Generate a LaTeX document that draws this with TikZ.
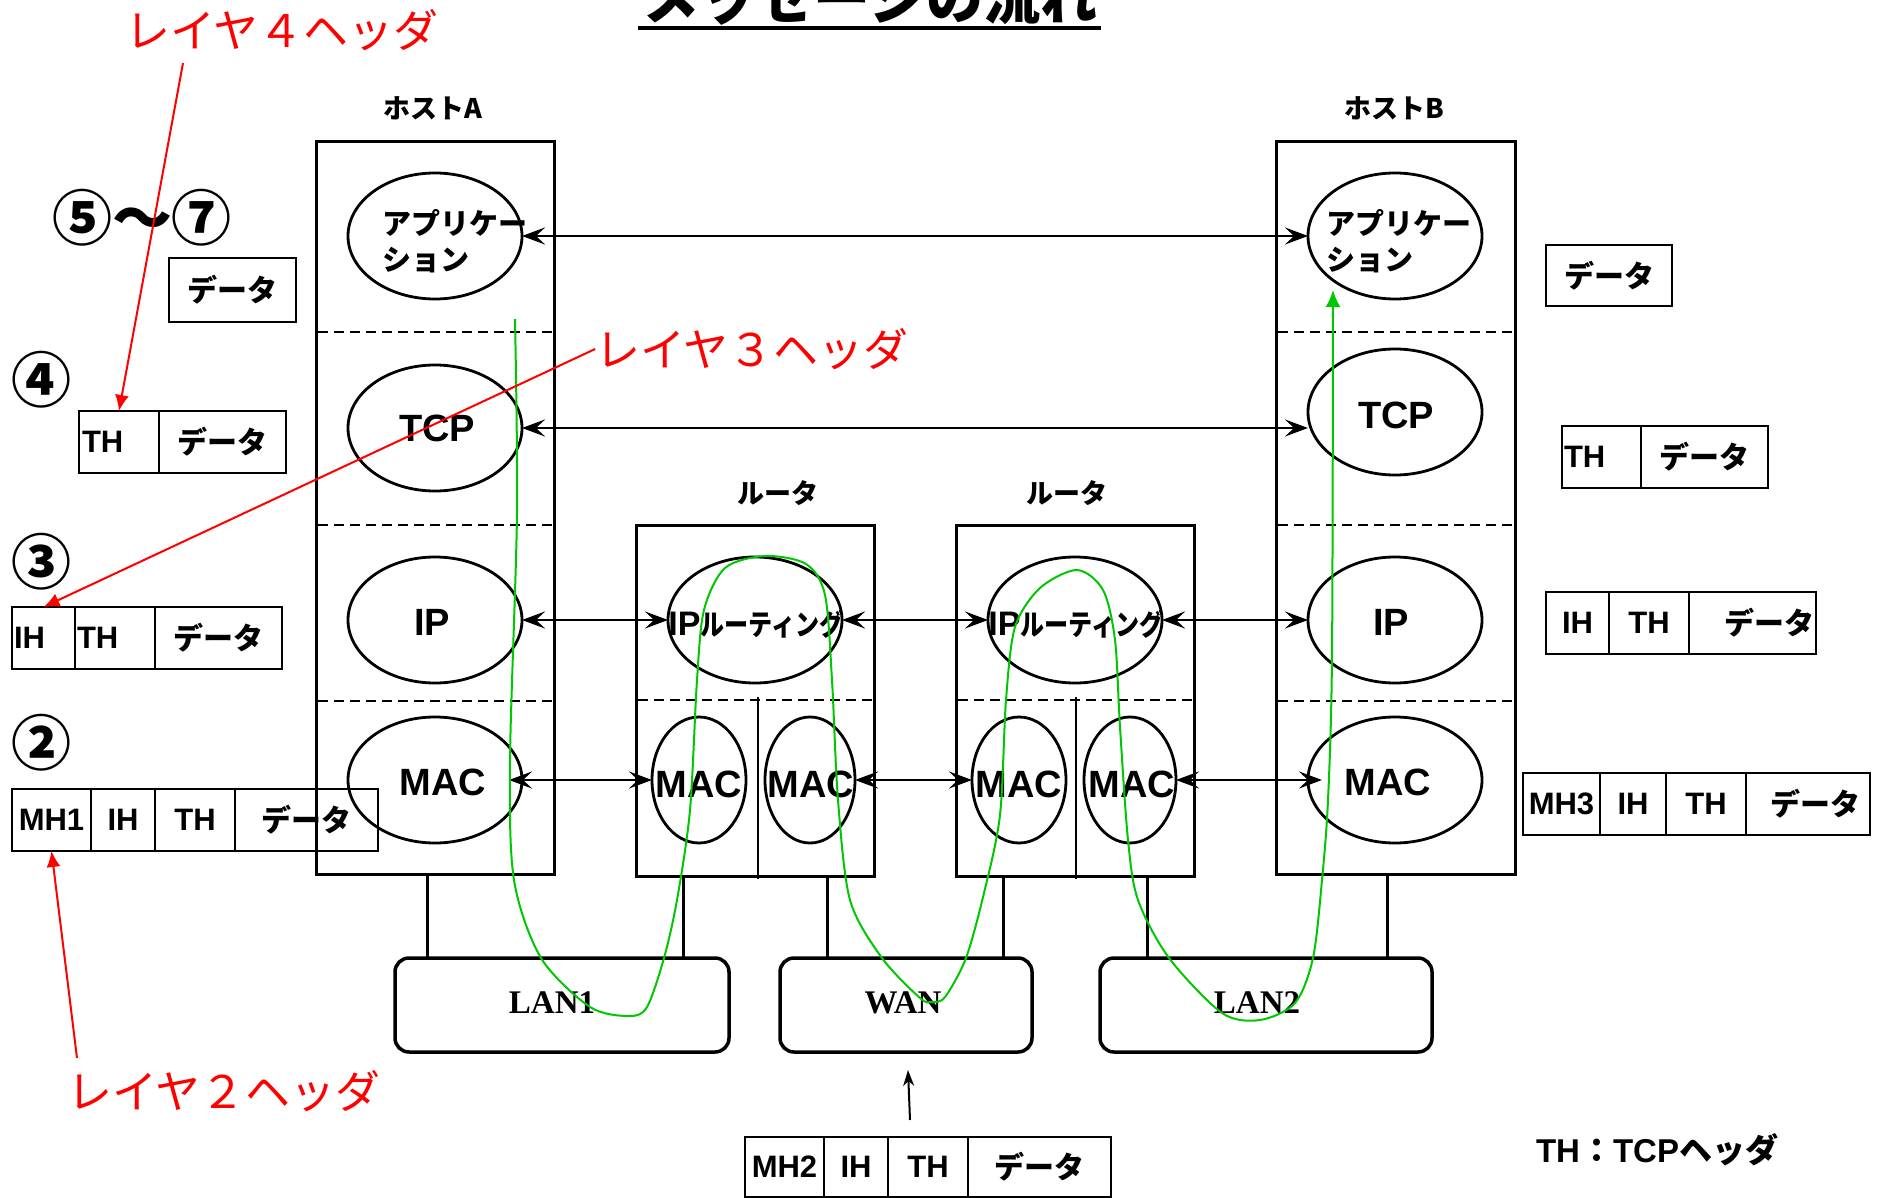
\documentclass[tikz,border=0pt]{standalone}
\usepackage{fontspec}
\usepackage{graphicx}
\setmainfont{Liberation Sans}
\newfontfamily\jp{Noto Sans CJK JP}
\newfontfamily\lanfont{Liberation Serif}
\usetikzlibrary{arrows.meta,shapes.geometric}
\newcommand\fsz[1]{\fontsize{#1pt}{#1pt}\selectfont}
\definecolor{flowgreen}{RGB}{0,200,0}
\begin{document}
\begin{tikzpicture}[x=1pt,y=-1pt,
  every node/.style={inner sep=0pt, outer sep=0pt},
  frame/.style={draw, line width=3pt, rectangle},
  lay/.style={draw, ellipse, line width=2.8pt, minimum width=174, minimum height=126},
  dsh/.style={line width=2.5pt, dash pattern=on 10pt off 6pt},
  dar/.style={line width=2.8pt, {Stealth[length=23pt,width=17pt,inset=9pt]}-{Stealth[length=23pt,width=17pt,inset=9pt]}},
  lt/.style={font=\bfseries\fsz{38}},
  hl/.style={font=\jp\bfseries\fsz{27}},
  jt/.style={font=\jp\bfseries\fontsize{29pt}{36pt}\selectfont},
  cell/.style={draw, line width=2.8pt, minimum height=62, font=\bfseries\fsz{31}},
  dt/.style={font=\jp\bfseries\fsz{30}},
  net/.style={draw, line width=3.5pt, rounded corners=14pt, minimum height=94},
  nett/.style={font=\lanfont\bfseries\fsz{33}},
  stub/.style={line width=3pt},
  redl/.style={red, line width=2pt, -{Latex[length=16pt,width=14pt]}},
  redt/.style={red, font=\jp\fsz{45}},
  num/.style={font=\jp\bfseries\fsz{60}},
  grn/.style={flowgreen, line width=2pt, -{Latex[length=17pt,width=15pt]}}
]
\fill[white] (0,0) rectangle (1885,1198);
\useasboundingbox (0,0) rectangle (1885,1198);

% title
\node[anchor=base, font=\jp\bfseries\fsz{57}] (title) at (870,20) {メッセージの流れ};
\draw[line width=4pt] (638,28) -- (1101,28);

% frames
\node[frame, minimum width=238, minimum height=732] (hostA) at (435,508) {};
\node[frame, minimum width=239, minimum height=732] (hostB) at (1395.5,508) {};
\node[frame, minimum width=238, minimum height=351] (r1) at (755,700.5) {};
\node[frame, minimum width=238, minimum height=351] (r2) at (1075,700.5) {};

\node[hl] (hAl) at (433,108) {ホストA};
\node[hl] (hBl) at (1394,108) {ホストB};
\node[hl] (r1l) at (778,493) {ルータ};
\node[hl] (r2l) at (1067,493) {ルータ};

% separators
\foreach \yy in {332,525,701} {
  \draw[dsh] (318,\yy) -- (552,\yy);
  \draw[dsh] (1278,\yy) -- (1513,\yy);
}
\draw[dsh] (638,700) -- (872,700);
\draw[dsh] (958,700) -- (1192,700);
\draw[line width=2pt] (758,697) -- (758,879);
\draw[line width=2pt] (1076,697) -- (1076,879);

% layer ellipses
\node[lay] (appA) at (435,236) {};
\node[lay] (tcpA) at (435,428) {};
\node[lay] (ipA) at (435,620) {};
\node[lay] (macA) at (435,780) {};
\node[lay] (appB) at (1395,236) {};
\node[lay] (tcpB) at (1395,412) {};
\node[lay] (ipB) at (1395,620) {};
\node[lay] (macB) at (1395,780) {};
\node[lay] (r1ip) at (755,620) {};
\node[lay] (r2ip) at (1075,620) {};
\node[lay, minimum width=94] (r1m1) at (699,780) {};
\node[lay, minimum width=90] (r1m2) at (810,780) {};
\node[lay, minimum width=94] (r2m1) at (1019,780) {};
\node[lay, minimum width=92] (r2m2) at (1130,780) {};

% texts in ellipses
\node[jt, align=left, anchor=west] (appAt) at (382,241) {アプリケー\\ション};
\node[jt, align=left, anchor=west] (appBt) at (1326,241) {アプリケー\\ション};
\node[lt] (tcpAt) at (437,428) {TCP};
\node[lt] (ipAt) at (432,622) {IP};
\node[lt] (macAt) at (443,782) {MAC};
\node[lt] (tcpBt) at (1396,415) {TCP};
\node[lt] (ipBt) at (1391,622) {IP};
\node[lt] (macBt) at (1388,782) {MAC};
\node[lt] (r1m1t) at (699,784) {MAC};
\node[lt] (r1m2t) at (811,784) {MAC};
\node[lt] (r2m1t) at (1019,784) {MAC};
\node[lt] (r2m2t) at (1132,784) {MAC};
\node[font=\bfseries] (r1ipt) at (756,624) {{\fsz{34}IP}\scalebox{0.83}[1]{\jp\fsz{29}ルーティング}};
\node[font=\bfseries] (r2ipt) at (1076,624) {{\fsz{34}IP}\scalebox{0.83}[1]{\jp\fsz{29}ルーティング}};

% peer arrows
\draw[dar] (appA.east) -- (appB.west);
\draw[dar] (tcpA.east) -- (tcpA.east -| tcpB.west);
\draw[dar] (ipA.east) -- (r1ip.west);
\draw[dar] (r1ip.east) -- (r2ip.west);
\draw[dar] (r2ip.east) -- (ipB.west);
\draw[dar, shorten <=-13pt] (macA.east) -- (r1m1.west);
\draw[dar] (r1m2.east) -- (r2m1.west);
\draw[dar, shorten >=-14pt] (r2m2.east) -- (macB.west);

% networks
\node[net, minimum width=334] (lan1) at (562,1005) {};
\node[net, minimum width=252] (wan) at (906,1005) {};
\node[net, minimum width=332] (lan2) at (1266,1005) {};
\node[nett] (lan1t) at (552,1003) {LAN1};
\node[nett] (want) at (903,1003) {WAN};
\node[nett] (lan2t) at (1257,1003) {LAN2};

\draw[stub] ([xshift=-8pt]hostA.south) -- ([xshift=-8pt]hostA.south |- lan1.north);
\draw[stub] ([xshift=-72pt]r1.south) -- ([xshift=-72pt]r1.south |- lan1.north);
\draw[stub] ([xshift=72pt]r1.south) -- ([xshift=72pt]r1.south |- wan.north);
\draw[stub] ([xshift=-72pt]r2.south) -- ([xshift=-72pt]r2.south |- wan.north);
\draw[stub] ([xshift=72pt]r2.south) -- ([xshift=72pt]r2.south |- lan2.north);
\draw[stub] ([xshift=-8.5pt]hostB.south) -- ([xshift=-8.5pt]hostB.south |- lan2.north);

% left packets
\node[num] (n57) at (142,218) {⑤〜⑦};
\node[num] (n4) at (41,380) {④};
\node[num] (n3) at (41,562) {③};
\node[num] (n2) at (41,743) {②};

\node[cell, dt, minimum width=127, minimum height=64] (d57) at (232.5,290) {データ};

\node[cell, minimum width=80, text width=74, align=left, inner xsep=3pt] (r4th) at (119,442) {TH};
\node[cell, dt, minimum width=127] (r4d) at (222.5,442) {データ};

\node[cell, minimum width=63, text width=59, align=left, inner xsep=2pt] (r3ih) at (43.5,638) {IH};
\node[cell, minimum width=80, text width=76, align=left, inner xsep=2pt] (r3th) at (115,638) {TH};
\node[cell, dt, minimum width=127] (r3d) at (218.5,638) {データ};

\node[cell, minimum width=79] (r2mh) at (51.5,820) {MH1};
\node[cell, minimum width=64] (r2ih) at (123,820) {IH};
\node[cell, minimum width=80] (r2th) at (195,820) {TH};
\node[cell, dt, minimum width=143] (r2d) at (306.5,820) {データ};

% right packets
\node[cell, dt, minimum width=126, minimum height=61] (rd57) at (1609,275.5) {データ};

\node[cell, minimum width=79, text width=75, align=left, inner xsep=2pt] (rth) at (1601.5,457) {TH};
\node[cell, dt, minimum width=127] (rthd) at (1704.5,457) {データ};

\node[cell, minimum width=63] (rih) at (1577.5,623) {IH};
\node[cell, minimum width=80] (rihth) at (1649,623) {TH};
\node[cell, dt, minimum width=127, text width=123, align=right, inner xsep=2pt] (rihd) at (1752.5,623) {データ};

\node[cell, minimum width=77] (rmh) at (1561.5,804) {MH3};
\node[cell, minimum width=66] (rmhih) at (1633,804) {IH};
\node[cell, minimum width=80] (rmhth) at (1706,804) {TH};
\node[cell, dt, minimum width=124, text width=104, align=right, inner xsep=10pt] (rmhd) at (1808,804) {データ};

% bottom packet
\node[cell, minimum width=79, minimum height=60] (bmh) at (784.5,1167) {MH2};
\node[cell, minimum width=64, minimum height=60] (bih) at (856,1167) {IH};
\node[cell, minimum width=80, minimum height=60] (bth) at (928,1167) {TH};
\node[cell, dt, minimum width=143, minimum height=60] (bd) at (1039.5,1167) {データ};

\coordinate (wanarr) at (910,1120);
\draw[line width=2pt, -{Stealth[length=16pt,width=11pt,inset=5pt]}] (wanarr) -- ([xshift=2pt, yshift=-18pt]wan.south);

\node[font=\bfseries\fsz{33}] (legend) at (1657,1150) {TH{\jp ：}TCP{\jp ヘッダ}};

% green flow
\draw[grn] plot[smooth, tension=0.5] coordinates {
 (515,319) (517,513) (510,760) (514,880) (541,958) (590,1007) (629,1016) (647,1007)
 (664,958) (677,900) (690,810) (697,680) (704,610) (725,568) (765,556) (806,564)
 (825,595) (832,680) (838,800) (850,900) (882,958) (920,998) (932,1002) (945,997)
 (966,958) (984,893) (1000,815) (1006,700) (1015,627) (1040,588) (1077,570) (1103,590)
 (1115,640) (1120,727) (1128,840) (1138,900) (1169,958) (1222,1013) (1260,1020) (1295,1003)
 (1313,958) (1322,880) (1328,800) (1332,656) (1333,290)};

% red annotations
\node[redt] (l4) at (282,30) {レイヤ４ヘッダ};
\node[redt] (l3) at (752,349) {レイヤ３ヘッダ};
\node[redt] (l2) at (224,1091) {レイヤ２ヘッダ};
\coordinate (l4s) at (183,63);
\coordinate (l2s) at (77,1058);
\draw[redl] (l4s) -- (r4th.north);
\draw[redl] (l3.west) -- (r3ih.north);
\draw[redl] (l2s) -- (r2mh.south);
\end{tikzpicture}
\end{document}
